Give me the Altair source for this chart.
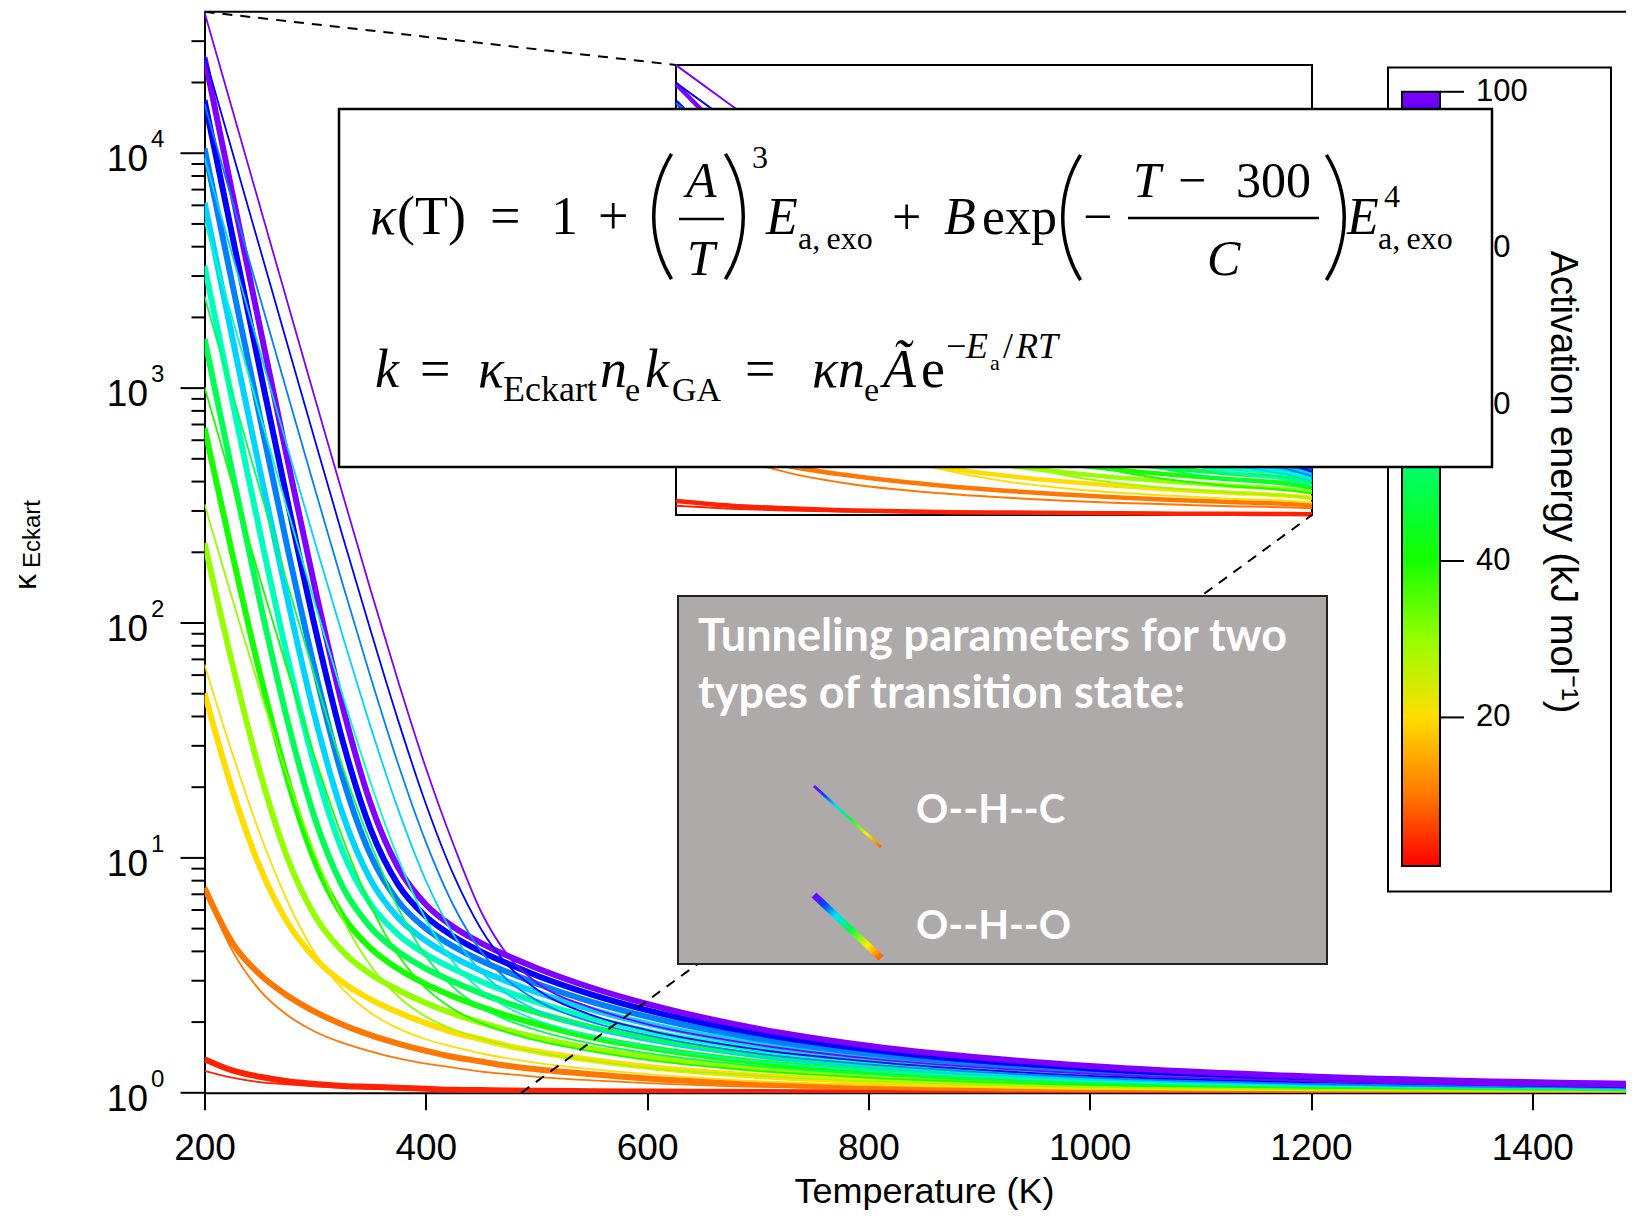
import altair as alt
import pandas as pd

# ---------------- data ----------------
T_GRID = [200, 225, 250, 275, 300, 325, 350, 375, 400, 425, 450, 475, 500, 550, 600, 700, 800, 1000, 1200, 1490]

# O--H--O transition states (thick lines), keyed by activation energy (kJ/mol)
OHO_1 = [1.39, 1.245, 1.17, 1.12, 1.09, 1.07, 1.06, 1.05, 1.04, 1.03, 1.027, 1.023, 1.02, 1.015, 1.012, 1.007, 1.005, 1.0025, 1.0015, 1.001]
OHO_10 = [7.46, 4.36, 3.19, 2.59, 2.21, 1.95, 1.76, 1.62, 1.51, 1.42, 1.36, 1.30, 1.26, 1.20, 1.15, 1.09, 1.06, 1.03, 1.02, 1.01]
OHO_20 = [50.3, 19.6, 9.15, 5.31, 3.73, 2.95, 2.50, 2.20, 1.98, 1.81, 1.69, 1.58, 1.50, 1.38, 1.29, 1.18, 1.12, 1.06, 1.04, 1.02]
OHO_30 = [219, 67.5, 23.3, 9.99, 5.64, 3.99, 3.20, 2.74, 2.41, 2.17, 1.99, 1.84, 1.72, 1.54, 1.42, 1.26, 1.18, 1.09, 1.05, 1.03]
OHO_40 = [676, 198, 61.2, 21.6, 9.62, 5.67, 4.13, 3.37, 2.90, 2.57, 2.32, 2.12, 1.96, 1.72, 1.56, 1.35, 1.23, 1.12, 1.07, 1.04]
OHO_50 = [1622, 440, 124, 38.4, 14.6, 7.51, 5.07, 3.99, 3.38, 2.97, 2.65, 2.40, 2.20, 1.90, 1.70, 1.44, 1.29, 1.15, 1.09, 1.05]
OHO_60 = [3312, 892, 245, 71.6, 24.2, 10.6, 6.37, 4.72, 3.89, 3.37, 2.98, 2.68, 2.44, 2.08, 1.83, 1.53, 1.35, 1.18, 1.10, 1.05]
OHO_70 = [6165, 1652, 449, 126.7, 39.5, 15.3, 8.08, 5.56, 4.44, 3.78, 3.31, 2.96, 2.68, 2.26, 1.97, 1.61, 1.41, 1.21, 1.12, 1.06]
OHO_80 = [10480, 2800, 756, 209, 62.3, 21.9, 10.3, 6.54, 5.01, 4.20, 3.65, 3.25, 2.92, 2.44, 2.11, 1.70, 1.47, 1.24, 1.14, 1.07]
OHO_90 = [16820, 4490, 1207, 330, 95.1, 31.3, 13.3, 7.70, 5.64, 4.63, 3.99, 3.53, 3.16, 2.62, 2.25, 1.79, 1.53, 1.27, 1.16, 1.08]
OHO_100 = [25570, 6820, 1827, 496, 140, 43.8, 17.1, 9.10, 6.33, 5.08, 4.34, 3.81, 3.40, 2.80, 2.39, 1.875, 1.586, 1.30, 1.174, 1.091]

# O--H--C transition states (thin lines)
OHC_1 = [1.24, 1.16, 1.11, 1.085, 1.065, 1.05, 1.04, 1.033, 1.027, 1.023, 1.019, 1.016, 1.014, 1.011, 1.008, 1.005, 1.003, 1.002, 1.001, 1.0005]
OHC_10 = [7.38, 4.04, 2.73, 2.14, 1.82, 1.63, 1.50, 1.40, 1.33, 1.28, 1.23, 1.20, 1.17, 1.13, 1.10, 1.06, 1.04, 1.02, 1.01, 1.006]
OHC_20 = [66.6, 28.0, 12.7, 6.53, 3.92, 2.76, 2.19, 1.88, 1.69, 1.57, 1.47, 1.40, 1.34, 1.26, 1.20, 1.12, 1.08, 1.04, 1.025, 1.013]
OHC_30 = [321, 127.6, 51.8, 22.1, 10.3, 5.49, 3.48, 2.57, 2.11, 1.86, 1.70, 1.58, 1.49, 1.37, 1.28, 1.18, 1.12, 1.06, 1.035, 1.02]
OHC_40 = [1010, 394, 155, 62.9, 26.5, 12.1, 6.27, 3.86, 2.79, 2.27, 1.98, 1.80, 1.67, 1.50, 1.38, 1.24, 1.16, 1.08, 1.05, 1.025]
OHC_50 = [2456, 954, 372, 146, 58.5, 24.2, 11.6, 6.11, 3.82, 2.81, 2.31, 2.03, 1.85, 1.62, 1.475, 1.30, 1.20, 1.10, 1.06, 1.03]
OHC_60 = [5144, 1995, 775, 303, 120, 49.0, 21.0, 9.96, 5.48, 3.59, 2.73, 2.29, 2.04, 1.75, 1.57, 1.36, 1.24, 1.12, 1.07, 1.04]
OHC_70 = [9568, 3707, 1438, 559, 219, 87.9, 36.3, 16.1, 8.02, 4.71, 3.28, 2.61, 2.25, 1.87, 1.66, 1.42, 1.28, 1.14, 1.08, 1.04]
OHC_80 = [16240, 6289, 2437, 946, 369, 146, 59.1, 25.1, 11.7, 6.27, 4.00, 2.99, 2.48, 2.00, 1.76, 1.47, 1.32, 1.16, 1.09, 1.05]
OHC_90 = [26320, 10190, 3948, 1531, 596, 233, 93.4, 38.5, 17.0, 8.48, 4.97, 3.46, 2.76, 2.14, 1.85, 1.53, 1.36, 1.18, 1.11, 1.055]
OHC_100 = [39840, 15420, 5970, 2314, 899, 352, 139, 56.5, 24.2, 11.4, 5.90, 3.80, 2.95, 2.30, 1.96, 1.60, 1.40, 1.205, 1.12, 1.06]

EA_LEVELS = [1, 10, 20, 30, 40, 50, 60, 70, 80, 90, 100]
OHO_SERIES = [OHO_1, OHO_10, OHO_20, OHO_30, OHO_40, OHO_50, OHO_60, OHO_70, OHO_80, OHO_90, OHO_100]
OHC_SERIES = [OHC_1, OHC_10, OHC_20, OHC_30, OHC_40, OHC_50, OHC_60, OHC_70, OHC_80, OHC_90, OHC_100]

# colour table (activation energy -> rainbow)
E_STOPS = [0, 10, 20, 30, 40, 50, 60, 70, 80, 90, 100]
E_COLORS = ['#ff0000', '#ff7700', '#ffdd00', '#95ff00', '#15ff00', '#00ff55',
            '#00ffbf', '#00d4ff', '#0080ff', '#0000ff', '#8000ff']

Y_MAJOR = [1, 10, 100, 1000, 10000]
Y_EXP = ['0', '1', '2', '3', '4']
Y_MINOR = [m * d for d in [1, 10, 100, 1000] for m in range(2, 10)] + [20000, 30000]
X_TICKS = [200, 400, 600, 800, 1000, 1200, 1400]
CB_TICKS = [20, 40, 60, 80, 100]

# ---------------- build long table ----------------
rows = []
for kind, series in (('OHO', OHO_SERIES), ('OHC', OHC_SERIES)):
    for ea, vals in zip(EA_LEVELS, series):
        for t, k in zip(T_GRID, vals):
            rows.append({'T': t, 'kappa': k, 'Ea': ea, 'kind': kind, 'cid': f'{kind}_{ea:03d}'})
df = pd.DataFrame(rows)
df_inset = df[df['T'] <= 500]

# ---------------- geometry (page pixels) ----------------
PX0, PY0 = 204.5, 11.8          # view origin on the page
X_MAX = 1485
PX_PER_K = 1.1065
W, H = (X_MAX - 200) * PX_PER_K, 1081.0      # plot area (kept inside the 1635 px page)
PAD_BOTTOM = 1202 - (PY0 - 8) - H            # keep the page from overflowing 1224 px


def vx(p):
    return p - PX0


def vy(p):
    return p - PY0


ONE = pd.DataFrame({'k': [0]})
FONT = 'Liberation Sans'
SERIF = 'Liberation Serif'

COLOR = alt.Scale(domain=E_STOPS, range=E_COLORS)
X_MAIN = alt.Scale(domain=[200, X_MAX], nice=False, zero=False)
Y_MAIN = alt.Scale(type='log', domain=[1, 40000], nice=False)

XAXIS = alt.Axis(values=X_TICKS, format='d', tickSize=17, tickWidth=2, tickColor='black',
                 domainWidth=2, domainColor='black', labelFontSize=37, labelFont=FONT,
                 labelColor='black', labelPadding=21, labelFlush=False, labelOverlap=False,
                 grid=False, title='Temperature (K)', titleFontSize=36, titleFont=FONT,
                 titleFontWeight='normal', titleColor='black', titleX=vx(924), titleY=99,
                 titleBaseline='middle', titleAlign='center')
YAXIS = alt.Axis(domain=True, domainWidth=2, domainColor='black', ticks=False,
                 labels=False, grid=False, title=None)


def box(x0, y0, x1, y1, fill, stroke, sw):
    return alt.Chart(ONE).mark_rect(fill=fill, stroke=stroke, strokeWidth=sw).encode(
        x=alt.value(vx(x0)), x2=alt.value(vx(x1)), y=alt.value(vy(y0)), y2=alt.value(vy(y1)))


def seg(x0, y0, x1, y1, **kw):
    return alt.Chart(ONE).mark_rule(**kw).encode(
        x=alt.value(vx(x0)), y=alt.value(vy(y0)), x2=alt.value(vx(x1)), y2=alt.value(vy(y1)))


def pix_text(items, **kw):
    d = pd.DataFrame([{'t': t, 'x': vx(x), 'y': vy(y), 's': s} for t, x, y, s in items])
    return alt.Chart(d).mark_text(align='left', baseline='alphabetic', **kw).encode(
        x=alt.X('x:Q', scale=None, axis=None), y=alt.Y('y:Q', scale=None, axis=None),
        text='t:N', size=alt.Size('s:Q', scale=None, legend=None))


# ---------------- colour bar ----------------
CB_Y = alt.Scale(domain=[1, 100], range=[vy(866), vy(91.8)], nice=False, zero=False)
grad_bar = alt.LinearGradient(
    gradient='linear', x1=0, y1=1, x2=0, y2=0,
    stops=[alt.GradientStop(offset=max(0.0, (e - 1) / 99), color=c) for e, c in zip(E_STOPS, E_COLORS)])
cb_outer = box(1388, 67.5, 1611, 891.5, 'white', 'black', 2)
cb_bar = alt.Chart(pd.DataFrame({'lo': [1], 'hi': [100]})).mark_rect(
    fill=grad_bar, stroke='black', strokeWidth=2).encode(
    x=alt.value(vx(1402)), x2=alt.value(vx(1440)),
    y=alt.Y('lo:Q', scale=CB_Y, axis=None), y2='hi:Q')
cb_df = pd.DataFrame({'v': CB_TICKS})
cb_ticks = alt.Chart(cb_df).mark_rule(color='black', strokeWidth=2).encode(
    y=alt.Y('v:Q', scale=CB_Y, axis=None), x=alt.value(vx(1440)), x2=alt.value(vx(1464)))
cb_labels = alt.Chart(cb_df).mark_text(align='left', baseline='middle', fontSize=31, font=FONT,
                                        color='black').encode(
    y=alt.Y('v:Q', scale=CB_Y, axis=None), x=alt.value(vx(1476)), text='v:Q')
cb_title = alt.Chart(ONE).mark_text(text='Activation energy (kJ mol\u207b\u00b9)', angle=90,
                                    fontSize=38, font=FONT, color='black',
                                    align='center', baseline='middle').encode(
    x=alt.value(vx(1562)), y=alt.value(vy(482)))
cb_layer = alt.layer(cb_outer, cb_bar, cb_ticks, cb_labels, cb_title)

# ---------------- main plot ----------------
thick = alt.Chart(df).transform_filter(alt.datum.kind == 'OHO').mark_line(
    strokeWidth=6, interpolate='monotone', clip=True).encode(
    x=alt.X('T:Q', scale=X_MAIN, axis=XAXIS),
    y=alt.Y('kappa:Q', scale=Y_MAIN, axis=YAXIS),
    color=alt.Color('Ea:Q', scale=COLOR, legend=None),
    detail='cid:N')
thin = alt.Chart(df).transform_filter(alt.datum.kind == 'OHC').mark_line(
    strokeWidth=1.8, interpolate='monotone', clip=True).encode(
    x=alt.X('T:Q', scale=X_MAIN, axis=XAXIS),
    y=alt.Y('kappa:Q', scale=Y_MAIN, axis=YAXIS),
    color=alt.Color('Ea:Q', scale=COLOR, legend=None),
    detail='cid:N')
major_df = pd.DataFrame({'v': Y_MAJOR, 'base': ['10'] * len(Y_MAJOR), 'exp': Y_EXP})
minor_df = pd.DataFrame({'v': Y_MINOR})
major_ticks = alt.Chart(major_df).mark_rule(color='black', strokeWidth=2).encode(
    y=alt.Y('v:Q', scale=Y_MAIN, axis=YAXIS), x=alt.value(-24), x2=alt.value(0))
minor_ticks = alt.Chart(minor_df).mark_rule(color='black', strokeWidth=2).encode(
    y=alt.Y('v:Q', scale=Y_MAIN, axis=YAXIS), x=alt.value(-13), x2=alt.value(0))
ylab_base = alt.Chart(major_df).mark_text(align='right', baseline='middle', dy=7, fontSize=37,
                                          font=FONT, color='black').encode(
    y=alt.Y('v:Q', scale=Y_MAIN, axis=YAXIS), x=alt.value(vx(148)), text='base:N')
ylab_exp = alt.Chart(major_df).mark_text(align='left', baseline='middle', dy=-13, fontSize=24,
                                         font=FONT, color='black').encode(
    y=alt.Y('v:Q', scale=Y_MAIN, axis=YAXIS), x=alt.value(vx(151)), text='exp:N')
ytitle_k = alt.Chart(ONE).mark_text(text='\u03ba', angle=270, fontSize=32, font=FONT,
                                    color='black', align='center', baseline='middle').encode(
    x=alt.value(vx(26)), y=alt.value(vy(582)))
ytitle_sub = alt.Chart(ONE).mark_text(text='Eckart', angle=270, fontSize=24, font=FONT,
                                      color='black', align='center', baseline='middle').encode(
    x=alt.value(vx(33)), y=alt.value(vy(534)))
top_border = alt.Chart(ONE).mark_rule(color='black', strokeWidth=2).encode(
    x=alt.value(0), x2=alt.value(W), y=alt.value(0))
main = alt.layer(thick, thin, major_ticks, minor_ticks, ylab_base, ylab_exp,
                 ytitle_k, ytitle_sub, top_border)

# ---------------- inset (zoom of 200-487 K) ----------------
X_IN = alt.Scale(domain=[200, 487], range=[vx(676), vx(1312)], clamp=True, nice=False, zero=False)
Y_IN = alt.Scale(type='log', domain=[1, 40000], range=[vy(515), vy(65)], clamp=True, nice=False)
inset_box = box(676, 65, 1312, 515, 'white', 'black', 2)
inset_thick = alt.Chart(df_inset).transform_filter(alt.datum.kind == 'OHO').mark_line(
    strokeWidth=4.5, interpolate='monotone').encode(
    x=alt.X('T:Q', scale=X_IN, axis=None), y=alt.Y('kappa:Q', scale=Y_IN, axis=None),
    color=alt.Color('Ea:Q', scale=COLOR, legend=None), detail='cid:N')
inset_thin = alt.Chart(df_inset).transform_filter(alt.datum.kind == 'OHC').mark_line(
    strokeWidth=2, interpolate='monotone').encode(
    x=alt.X('T:Q', scale=X_IN, axis=None), y=alt.Y('kappa:Q', scale=Y_IN, axis=None),
    color=alt.Color('Ea:Q', scale=COLOR, legend=None), detail='cid:N')
inset_layer = alt.layer(inset_box, inset_thick, inset_thin)

# ---------------- dashed connectors ----------------
dashed = alt.layer(
    seg(204.5, 11.8, 676, 65, color='black', strokeWidth=2, strokeDash=[10, 8]),
    seg(521.3, 1092.8, 1312, 515, color='black', strokeWidth=2, strokeDash=[10, 8]))

# ---------------- formula box ----------------
F_UPRIGHT = [
    ('(T)', 397, 234, 54), ('=', 490, 234, 54), ('1', 551, 234, 54), ('+', 598, 234, 54),
    ('3', 752, 168, 32), ('a,\u2009exo', 798, 249, 32), ('+', 892, 234, 52),
    ('exp', 982, 234, 52), ('\u2212', 1083, 234, 52), ('\u2212', 1178, 197, 50),
    ('300', 1236, 197, 50), ('4', 1384, 207, 32), ('a,\u2009exo', 1378, 249, 32),
    ('=', 420, 387, 54), ('Eckart', 503, 401, 36), ('e', 625, 401, 34), ('GA', 672, 401, 34),
    ('=', 745, 387, 54), ('e', 864, 401, 34), ('e', 921, 387, 54), ('\u2212', 946, 358, 36),
    ('a', 990, 370, 22), ('/', 1003, 358, 36),
]
F_ITALIC = [
    ('\u03ba', 370, 234, 54), ('A', 686, 197, 50), ('T', 687, 275, 50), ('E', 766, 234, 52),
    ('B', 944, 234, 52), ('T', 1133, 197, 50), ('C', 1207, 275, 50), ('E', 1347, 234, 52),
    ('k', 375, 387, 54), ('\u03ba', 478, 387, 54), ('n', 600, 387, 54), ('k', 645, 387, 54),
    ('\u03ba', 812, 387, 54), ('n', 838, 387, 54), ('\u00c3', 883, 387, 54), ('E', 966, 358, 36),
    ('RT', 1016, 358, 36),
]


def paren(cx, cy, r, t0, t1):
    return alt.Chart(ONE).mark_arc(radius=r, radius2=r - 3.5, theta=t0, theta2=t1,
                                   color='black').encode(x=alt.value(vx(cx)), y=alt.value(vy(cy)))


formula_layer = alt.layer(
    box(339, 109, 1492, 467, 'white', 'black', 2.5),
    pix_text(F_UPRIGHT, font=SERIF, color='black'),
    pix_text(F_ITALIC, font=SERIF, color='black', fontStyle='italic'),
    seg(679, 219, 724, 219, color='black', strokeWidth=2.5),
    seg(1128, 218, 1319, 218, color='black', strokeWidth=2.5),
    paren(773, 216.5, 121, 4.159, 5.266),
    paren(624, 216.5, 121, 1.018, 2.124),
    paren(1182, 217.5, 121, 4.159, 5.266),
    paren(1225, 217.5, 121, 1.018, 2.124),
)

# ---------------- grey legend box ----------------
swatch_grad = alt.LinearGradient(
    gradient='linear', x1=0, y1=0, x2=1, y2=1,
    stops=[alt.GradientStop(offset=0, color='#8000ff'), alt.GradientStop(offset=0.15, color='#0040ff'),
           alt.GradientStop(offset=0.32, color='#00e0ff'), alt.GradientStop(offset=0.55, color='#00ff40'),
           alt.GradientStop(offset=0.8, color='#ffee00'), alt.GradientStop(offset=1, color='#ff6000')])
G_TEXT = [
    ('Tunneling parameters for two', 698, 651, 45),
    ('types of transition state:', 698, 708, 45),
    ('O--H--C', 916, 823, 40),
    ('O--H--O', 916, 939, 40),
]
gray_layer = alt.layer(
    box(678, 596, 1327, 964, '#aeaaaa', '#222222', 2),
    pix_text(G_TEXT, font='Lato', fontWeight='bold', color='white'),
    seg(814, 786, 881, 847, stroke=swatch_grad, strokeWidth=3),
    seg(814, 895, 881, 958, stroke=swatch_grad, strokeWidth=7),
)

chart = alt.layer(cb_layer, main, inset_layer, dashed, formula_layer, gray_layer).resolve_scale(
    x='independent', y='independent').properties(
    width=W, height=H,
    padding={'left': PX0 - 8, 'top': PY0 - 8, 'right': 0, 'bottom': PAD_BOTTOM},
    autosize=alt.AutoSizeParams(type='none'),
    background='white',
).configure_view(stroke=None)

chart.save('out.html', embed_options={'renderer': 'svg', 'actions': False})
